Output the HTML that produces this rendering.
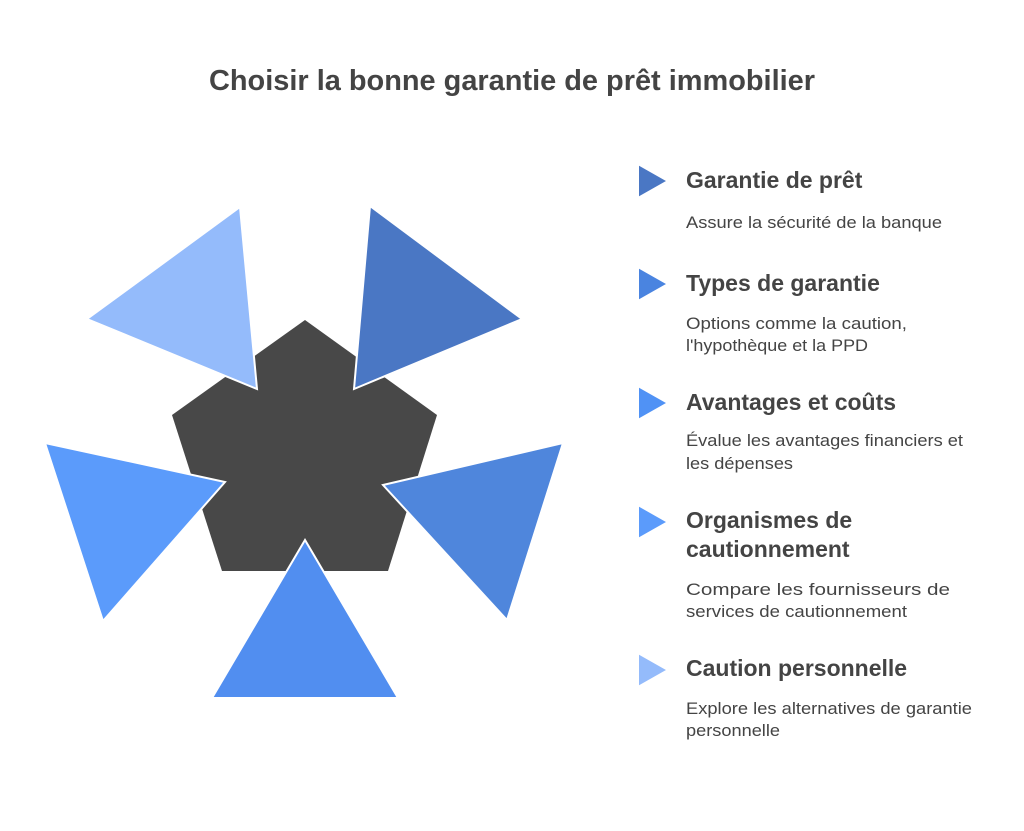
<!DOCTYPE html>
<html><head><meta charset="utf-8"><style>
body{margin:0;background:#fff;width:1024px;height:831px;overflow:hidden;font-family:"Liberation Sans",sans-serif;color:#444}
</style></head><body>
<svg width="1024" height="831" xmlns="http://www.w3.org/2000/svg" style="position:absolute;left:0;top:0">
<text x="512" y="90" text-anchor="middle" font-size="29" font-weight="bold" fill="#444" font-family="Liberation Sans, sans-serif" textLength="606" lengthAdjust="spacingAndGlyphs">Choisir la bonne garantie de prêt immobilier</text>
<g stroke="#fff" stroke-width="2" stroke-linejoin="miter">
<polygon points="305,320 437,415 388,571 222,571 172,415" fill="#484848" stroke="none"/>
<polygon points="240,207 87,319 257,389" fill="#94bbfb"/>
<polygon points="370,206 522,319 354,389" fill="#4a77c4"/>
<polygon points="45,443 225,482 103,621" fill="#5b9bfb"/>
<polygon points="563,443 383,485 507,620" fill="#4f86dc"/>
<polygon points="305,540 212,698 398,698" fill="#518ef0"/>
<polygon points="638,164 668,181 638,198" fill="#4a77c4"/>
<polygon points="638,267 668,284 638,301" fill="#4a84e0"/>
<polygon points="638,386 668,403 638,420" fill="#5092f5"/>
<polygon points="638,505 668,522 638,539" fill="#5b9bfb"/>
<polygon points="638,653 668,670 638,687" fill="#94bbfb"/>
</g>
<g font-family="Liberation Sans, sans-serif" fill="#444">
<g font-size="23" font-weight="bold">
<text x="686" y="188">Garantie de prêt</text>
<text x="686" y="291">Types de garantie</text>
<text x="686" y="410">Avantages et coûts</text>
<text x="686" y="528">Organismes de</text>
<text x="686" y="557">cautionnement</text>
<text x="686" y="676">Caution personnelle</text>
</g>
<g font-size="17">
<text x="686" y="228" textLength="256" lengthAdjust="spacingAndGlyphs">Assure la sécurité de la banque</text>
<text x="686" y="329" textLength="221" lengthAdjust="spacingAndGlyphs">Options comme la caution,</text>
<text x="686" y="351" textLength="182" lengthAdjust="spacingAndGlyphs">l'hypothèque et la PPD</text>
<text x="686" y="446" textLength="277" lengthAdjust="spacingAndGlyphs">Évalue les avantages financiers et</text>
<text x="686" y="469" textLength="107" lengthAdjust="spacingAndGlyphs">les dépenses</text>
<text x="686" y="595" textLength="264" lengthAdjust="spacingAndGlyphs">Compare les fournisseurs de</text>
<text x="686" y="617" textLength="221" lengthAdjust="spacingAndGlyphs">services de cautionnement</text>
<text x="686" y="714" textLength="286" lengthAdjust="spacingAndGlyphs">Explore les alternatives de garantie</text>
<text x="686" y="736" textLength="94" lengthAdjust="spacingAndGlyphs">personnelle</text>
</g>
</g>
</svg>
</body></html>
